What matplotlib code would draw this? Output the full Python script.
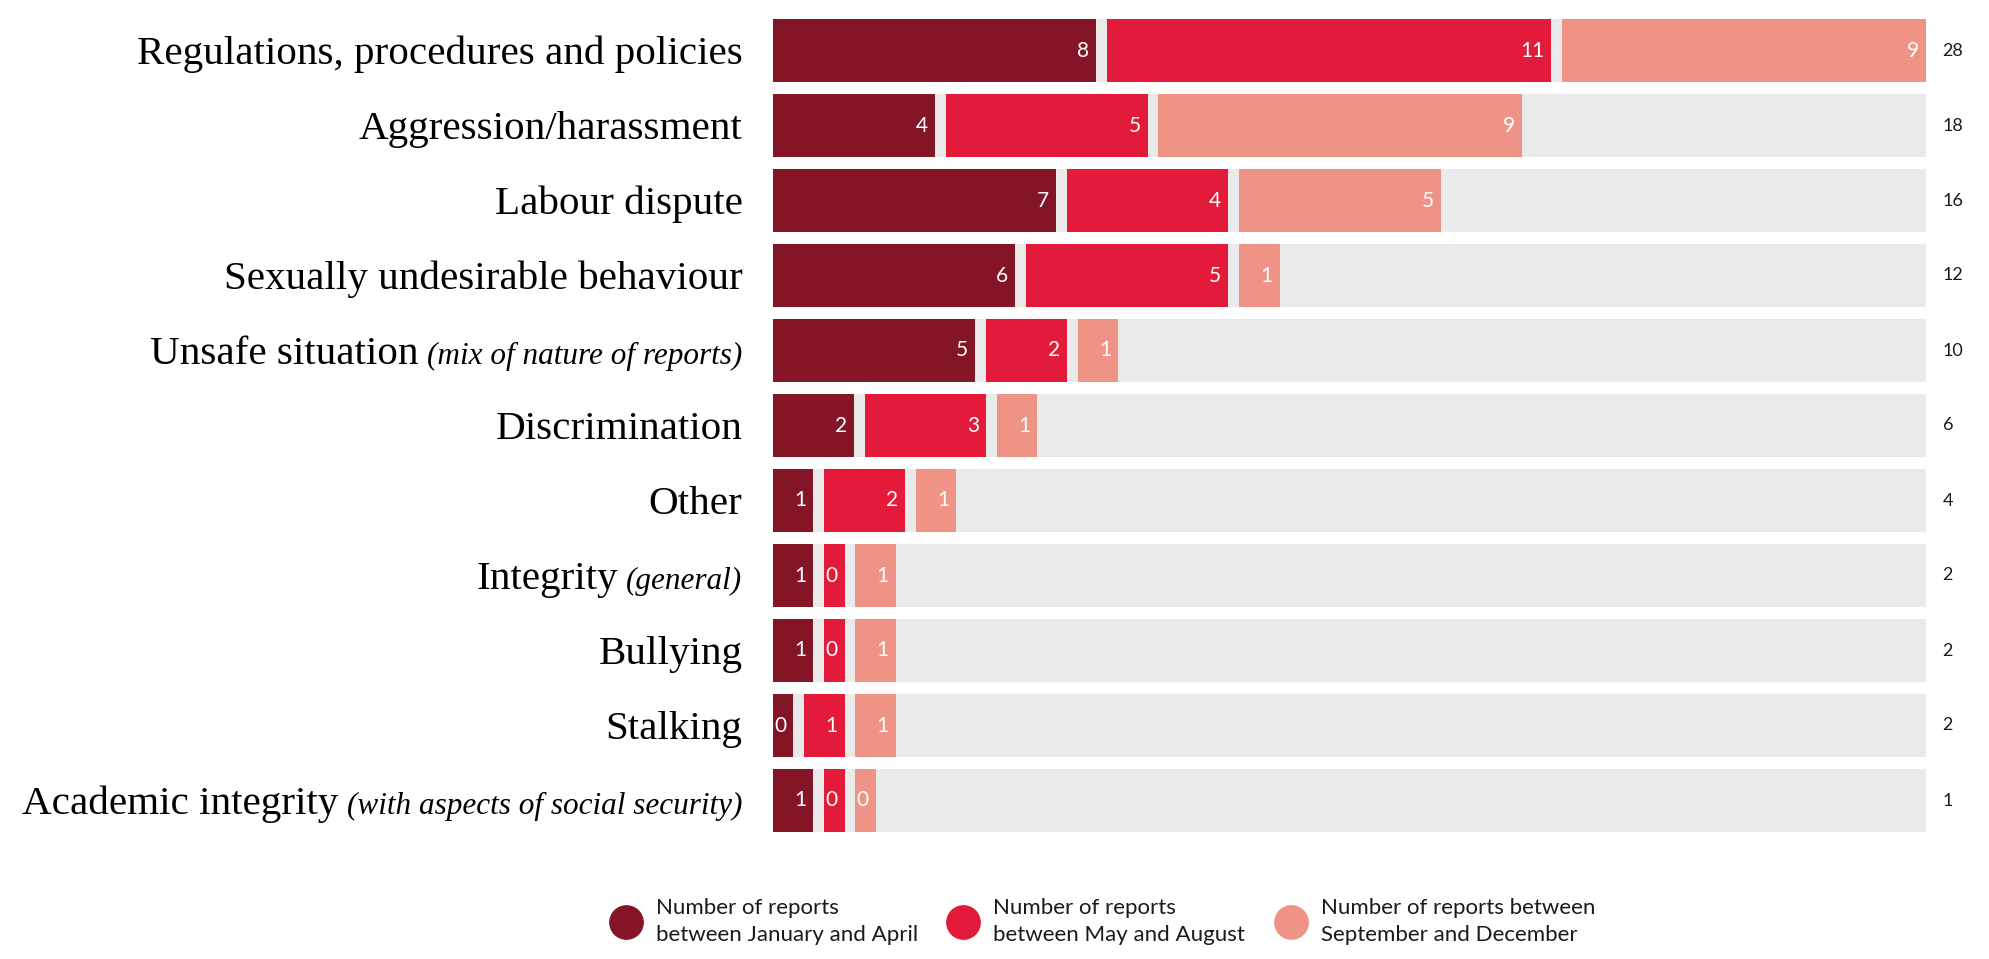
import numpy as np
import matplotlib.pyplot as plt
from matplotlib.lines import Line2D

# data
categories = ["Regulations, procedures and policies", "Aggression/harassment",
              "Labour dispute", "Sexually undesirable behaviour",
              "Unsafe situation", "Discrimination", "Other", "Integrity",
              "Bullying", "Stalking", "Academic integrity"]
notes = ["", "", "", "", "(mix of nature of reports)", "", "", "(general)",
         "", "", "(with aspects of social security)"]
jan_apr = [8, 4, 7, 6, 5, 2, 1, 1, 1, 0, 1]
may_aug = [11, 5, 4, 5, 2, 3, 2, 0, 0, 1, 0]
sep_dec = [9, 9, 5, 1, 1, 1, 1, 1, 1, 1, 0]
totals = [28, 18, 16, 12, 10, 6, 4, 2, 2, 2, 1]   # as printed in the chart
series_labels = ["Number of reports\nbetween January and April",
                 "Number of reports\nbetween May and August",
                 "Number of reports between\nSeptember and December"]
colors = ["#831526", "#E31A39", "#EF9386"]
track_color = "#EAEAEA"

serif = "Liberation Serif"
sans = "Lato"

series = np.array([jan_apr, may_aug, sep_dec], dtype=float)
gap = 0.27      # gap between segments, in data units
min_w = 0.5     # zero values still get a small block

widths = np.maximum(series, min_w)
lefts = np.zeros_like(widths)
for k in range(1, 3):
    lefts[k] = lefts[k - 1] + widths[k - 1] + gap
track_end = (lefts[-1] + widths[-1]).max()

fig = plt.figure(figsize=(19.9, 9.59), dpi=100)
ax = fig.add_axes([773 / 1990, 1 - 832 / 959, 1153 / 1990, 813 / 959])

y = np.arange(len(categories))
bar_h = 0.84
ax.barh(y, track_end, height=bar_h, color=track_color, zorder=1)
for k in range(3):
    ax.barh(y, widths[k], left=lefts[k], height=bar_h, color=colors[k], zorder=2)
    for i in range(len(y)):
        ax.annotate(str(int(series[k, i])), xy=(lefts[k, i] + widths[k, i], i),
                    xytext=(-5, 0), textcoords="offset points", ha="right",
                    va="center", color="white", fontsize=15, family=sans, zorder=3)

ax.set_xlim(0, track_end)
ax.set_ylim(len(categories) - 1 + bar_h / 2, -bar_h / 2)
ax.axis("off")

ytrans = ax.get_yaxis_transform()
for i, t in enumerate(totals):
    ax.annotate(str(t), xy=(1, i), xycoords=ytrans, xytext=(12, 0),
                textcoords="offset points", ha="left", va="center",
                fontsize=13, family=sans, color="#1a1a1a")

# row labels: roman name + smaller italic note, sharing a baseline
renderer = fig.canvas.get_renderer()
for i, (name, note) in enumerate(zip(categories, notes)):
    x_off = -22
    if note:
        t = ax.annotate(note, xy=(0, i), xycoords=ytrans, xytext=(x_off, -10),
                        textcoords="offset points", ha="right", va="baseline",
                        fontsize=22.5, style="italic", family=serif, color="black")
        x_off -= t.get_window_extent(renderer).width * 72 / fig.dpi + 6
    ax.annotate(name, xy=(0, i), xycoords=ytrans, xytext=(x_off, -10),
                textcoords="offset points", ha="right", va="baseline",
                fontsize=29.6, family=serif, color="black")

handles = [Line2D([], [], marker="o", linestyle="none", markersize=24,
                  markerfacecolor=c, markeredgecolor=c) for c in colors]
leg = fig.legend(handles, series_labels, loc="center", bbox_to_anchor=(0.555, 0.039),
                 ncol=3, frameon=False, prop={"family": sans, "size": 16},
                 handlelength=1.1, handletextpad=0.8, columnspacing=1.5,
                 labelcolor="#1a1a1a")
for txt in leg.get_texts():
    txt.set_linespacing(1.45)

fig.savefig("out.png", dpi=100, facecolor="white")
